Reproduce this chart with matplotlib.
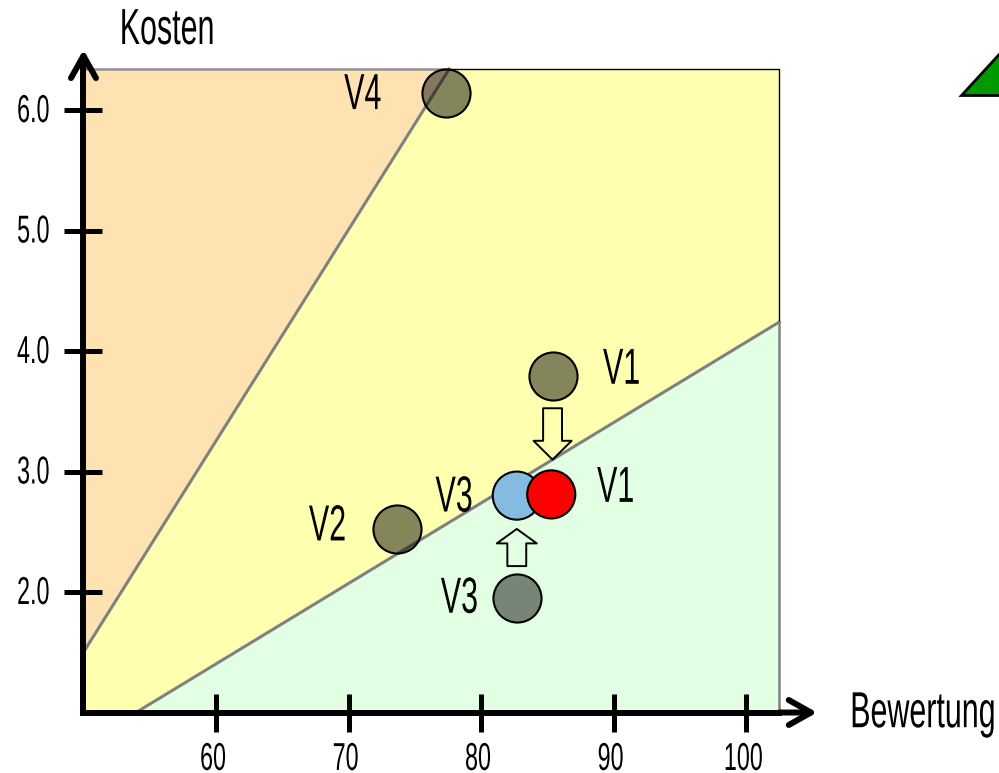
import matplotlib
matplotlib.use('Agg')
import matplotlib.pyplot as plt
from matplotlib.patches import Polygon
from matplotlib.patheffects import AbstractPathEffect
from matplotlib.transforms import Affine2D, ScaledTranslation

plt.rcParams['font.family'] = ['Liberation Sans', 'DejaVu Sans']

# Values
x_min, x_max = 50, 102.5
y_min, y_max = 1.0, 6.34
x_ticks = [60, 70, 80, 90, 100]
y_ticks = [2, 3, 4, 5, 6]
upper_x = [50, 77.6]
upper_y = [1.5, 6.34]
lower_x = [53.96, 102.5]
lower_y = [1.0, 4.24]

# Old positions and the positions after the move
old_x = [85.4, 73.66, 82.7, 77.36]
old_y = [3.79, 2.52, 1.95, 6.14]
old_names = ['V1', 'V2', 'V3', 'V4']
new_x = [82.7, 85.3]
new_y = [2.80, 2.81]
new_names = ['V3', 'V1']
new_colors = ['#85BBE0', '#FF0000']

# Green triangle cut off at the right border
tri_x = [116.25, 122.2, 122.2]
tri_y = [6.125, 6.125, 6.84]


class Squeeze(AbstractPathEffect):
    # narrow the glyphs around their own centre, no condensed font installed
    def __init__(self, factor=0.6):
        super().__init__()
        self.factor = factor

    def draw_path(self, renderer, gc, tpath, affine, rgbFace=None):
        box = tpath.get_extents()
        mid = (box.x0 + box.x1) / 2
        squeeze = Affine2D().translate(-mid, 0).scale(self.factor, 1).translate(mid, 0)
        renderer.draw_path(gc, tpath, squeeze + affine, rgbFace)


narrow = [Squeeze(0.6)]

fig = plt.figure(figsize=(9.99, 7.73), dpi=100)
ax = fig.add_axes([0, 0, 1, 1])
ax.set_xlim(43.7, 119.09)
ax.set_ylim(0.498, 6.913)
ax.patch.set_alpha(0)

# Regions
ax.add_patch(Polygon([(x_min, y_max), (x_min, upper_y[0]), (upper_x[1], y_max)],
                     facecolor='#FFE2B2', edgecolor='none', zorder=1))
ax.add_patch(Polygon([(x_min, upper_y[0]), (upper_x[1], y_max), (x_max, y_max),
                      (x_max, lower_y[1]), (lower_x[0], y_min), (x_min, y_min)],
                     facecolor='#FFFFB0', edgecolor='none', zorder=1))
ax.add_patch(Polygon([(lower_x[0], y_min), (x_max, lower_y[1]), (x_max, y_min)],
                     facecolor='#E3FFE3', edgecolor='none', zorder=1))

# Borders
ax.plot(upper_x, upper_y, color='#808080', lw=2.2, zorder=2)
ax.plot(lower_x, lower_y, color='#808080', lw=2.2, zorder=2)
ax.plot([x_min, upper_x[1]], [y_max, y_max], color='#909090', lw=1.8, zorder=2)
ax.plot([upper_x[1], x_max, x_max], [y_max, y_max, lower_y[1]], color='black', lw=1.0, zorder=2)
ax.plot([x_max, x_max], [lower_y[1], y_min], color='#808080', lw=1.8, zorder=2)

# Axes with arrow heads
for side in ['top', 'right']:
    ax.spines[side].set_visible(False)
ax.spines['left'].set_position(('data', x_min))
ax.spines['bottom'].set_position(('data', y_min))
ax.spines['left'].set_bounds(y_min, y_max)
ax.spines['bottom'].set_bounds(x_min, x_max)
ax.spines['left'].set_linewidth(4.3)
ax.spines['bottom'].set_linewidth(4.3)
ax.spines['left'].set_zorder(6)
ax.spines['bottom'].set_zorder(6)
ax.set_xticks(x_ticks)
ax.set_yticks(y_ticks)
ax.set_xticklabels([str(v) for v in x_ticks])
ax.set_yticklabels(['%.1f' % v for v in y_ticks])
ax.tick_params(axis='both', direction='inout', length=27.4, width=3.6, labelsize=28, zorder=6)
ax.tick_params(axis='x', pad=7.5)
ax.tick_params(axis='y', pad=3)
nudge_x = ScaledTranslation(-3 / 100, 0, fig.dpi_scale_trans)
nudge_y = ScaledTranslation(0, 2 / 100, fig.dpi_scale_trans)
for label in ax.get_xticklabels():
    label.set_path_effects(narrow)
    label.set_transform(label.get_transform() + nudge_x)
for label in ax.get_yticklabels():
    label.set_path_effects(narrow)
    label.set_transform(label.get_transform() + nudge_y)

arrow_style = dict(arrowstyle='->,head_length=0.8,head_width=0.45', color='black', lw=4.3,
                   shrinkA=0, shrinkB=0, mutation_scale=20, capstyle='round')
ax.annotate('', xy=(105.36, y_min), xytext=(x_max, y_min), arrowprops=arrow_style, zorder=6)
ax.annotate('', xy=(x_min, 6.5), xytext=(x_min, y_max), arrowprops=arrow_style, zorder=6)

# Points
ax.scatter(old_x, old_y, s=1200, facecolor=(0, 0, 0, 0.48), edgecolor='black', linewidth=1.5, zorder=4)
ax.scatter(new_x, new_y, s=1200, c=new_colors, edgecolor='black', linewidth=1.5, zorder=5)

# Moves of V1 and V3
hollow_down = dict(arrowstyle='simple,head_length=0.68,head_width=1.37,tail_width=0.68', facecolor='none',
                   edgecolor='black', lw=1.4, mutation_scale=20, shrinkA=23, shrinkB=25)
hollow_up = dict(arrowstyle='simple,head_length=0.52,head_width=1.44,tail_width=0.68', facecolor='none',
                 edgecolor='black', lw=1.4, mutation_scale=20, shrinkA=23, shrinkB=24)
ax.annotate('', xy=(old_x[0], new_y[1]), xytext=(old_x[0], old_y[0]), arrowprops=hollow_down, zorder=3)
ax.annotate('', xy=(new_x[0], new_y[0]), xytext=(old_x[2], old_y[2]), arrowprops=hollow_up, zorder=3)

# Point labels
big = dict(fontsize=36.5, ha='center', va='center', path_effects=narrow)
ax.text(90.65, 3.84, old_names[0], **big)
ax.text(68.45, 2.54, old_names[1], **big)
ax.text(78.4, 1.94, old_names[2], **big)
ax.text(71.1, 6.12, old_names[3], **big)
ax.text(78.0, 2.78, new_names[0], **big)
ax.text(90.2, 2.86, new_names[1], **big)

# Axis names
ax.text(56.3, 6.66, 'Kosten', **big)
ax.text(113.33, 0.99, 'Bewertung', **big)

ax.add_patch(Polygon(list(zip(tri_x, tri_y)), facecolor='#009900', edgecolor='black', lw=2,
                     clip_on=True, zorder=3))

fig.savefig('out.png', dpi=100)
